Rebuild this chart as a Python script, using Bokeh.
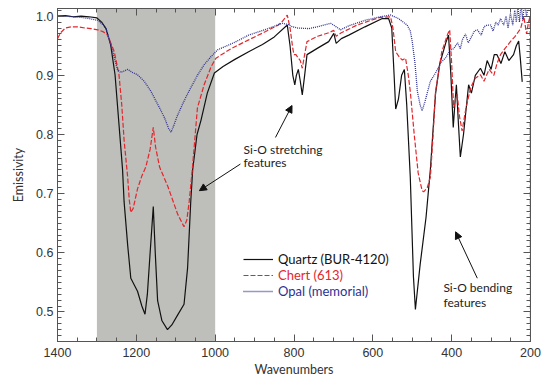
from bokeh.plotting import figure
from bokeh.models import (Range1d, FixedTicker, LinearAxis, BoxAnnotation, Label,
                          Arrow, NormalHead, Legend, LegendItem)
from bokeh.embed import file_html
from bokeh.resources import INLINE

# ---------------- data ----------------
quartz_wn = [1400, 1380, 1360, 1340, 1320, 1300, 1288, 1277, 1265, 1254, 1244, 1235, 1231, 1222,
             1214, 1197, 1186, 1178, 1172, 1165, 1157, 1152, 1146, 1135, 1121, 1110, 1095, 1079,
             1070, 1062, 1057, 1046, 1036, 1020, 1002, 980, 950, 915, 880, 850, 817, 810, 803,
             798, 794, 789, 784, 779, 773, 767, 740, 712, 699, 693, 680, 661, 620, 576, 560,
             552, 546, 542, 535, 527, 520, 514, 505, 497, 492, 480, 465, 454, 445, 441, 430,
             415, 408, 402, 396, 392, 388, 383, 378, 370, 357, 350, 340, 327, 318, 310, 300,
             292, 285, 275, 265, 255, 243, 236, 230, 226, 221]
quartz_e = [1.000, 1.001, 0.999, 1.000, 0.999, 0.997, 0.990, 0.979, 0.951, 0.901, 0.817, 0.741,
            0.686, 0.613, 0.557, 0.535, 0.510, 0.496, 0.530, 0.600, 0.678, 0.600, 0.519, 0.485,
            0.470, 0.478, 0.495, 0.513, 0.574, 0.686, 0.741, 0.800, 0.824, 0.870, 0.904, 0.915,
            0.927, 0.940, 0.952, 0.965, 0.985, 0.950, 0.900, 0.884, 0.900, 0.910, 0.890, 0.867,
            0.900, 0.935, 0.946, 0.957, 0.971, 0.954, 0.962, 0.968, 0.982, 0.996, 0.996, 0.980,
            0.900, 0.843, 0.860, 0.900, 0.910, 0.850, 0.728, 0.560, 0.504, 0.580, 0.660, 0.741,
            0.830, 0.868, 0.920, 0.955, 0.968, 0.900, 0.812, 0.850, 0.884, 0.820, 0.762, 0.800,
            0.884, 0.870, 0.900, 0.912, 0.900, 0.925, 0.910, 0.935, 0.935, 0.920, 0.940, 0.925,
            0.935, 0.950, 0.958, 0.930, 0.889]

chert_wn = [1400, 1392, 1380, 1365, 1349, 1330, 1315, 1298, 1285, 1273, 1256, 1244, 1237, 1231,
            1222, 1218, 1214, 1208, 1197, 1186, 1176, 1165, 1157, 1151, 1141, 1134, 1120, 1112,
            1095, 1079, 1072, 1066, 1058, 1045, 1028, 1010, 998, 960, 915, 872, 840, 830, 817,
            810, 803, 800, 795, 789, 784, 779, 773, 767, 740, 712, 699, 693, 680, 640, 600, 581,
            555, 549, 542, 532, 525, 517, 510, 505, 495, 485, 475, 471, 462, 454, 447, 441, 425,
            410, 405, 400, 395, 390, 386, 380, 373.5, 365, 352, 340, 327, 318, 305, 293, 285,
            276, 265, 251, 240, 225, 217, 210, 205, 201, 200]
chert_e = [0.962, 0.972, 0.980, 0.982, 0.982, 0.980, 0.979, 0.977, 0.974, 0.968, 0.940, 0.901,
           0.850, 0.790, 0.728, 0.690, 0.668, 0.675, 0.708, 0.730, 0.745, 0.775, 0.812, 0.778,
           0.745, 0.734, 0.712, 0.697, 0.665, 0.644, 0.655, 0.686, 0.741, 0.845, 0.884, 0.915,
           0.929, 0.945, 0.960, 0.974, 0.985, 0.991, 1.002, 0.980, 0.945, 0.935, 0.935, 0.929,
           0.925, 0.912, 0.935, 0.957, 0.966, 0.972, 0.976, 0.966, 0.972, 0.985, 0.994, 0.998,
           0.999, 0.980, 0.940, 0.930, 0.926, 0.929, 0.900, 0.873, 0.800, 0.735, 0.705, 0.703,
           0.710, 0.728, 0.800, 0.873, 0.940, 0.970, 0.977, 0.920, 0.845, 0.860, 0.868, 0.830,
           0.806, 0.840, 0.879, 0.895, 0.901, 0.890, 0.910, 0.900, 0.920, 0.935, 0.945, 0.957,
           0.965, 0.979, 1.000, 0.970, 0.990, 1.000, 0.400]

opal_wn = [1400, 1380, 1360, 1340, 1320, 1298, 1285, 1277, 1268, 1260, 1248, 1240, 1232, 1222,
           1210, 1197, 1180, 1163, 1145, 1129, 1118, 1112, 1105, 1097, 1087, 1075, 1062, 1045,
           1028, 1010, 994, 950, 915, 870, 830, 815, 804, 790, 762, 735, 707, 695, 682, 660, 620,
           581, 555, 535, 513, 505, 500, 493, 487, 480, 475, 468, 460, 454, 440, 428, 415, 403,
           395, 385, 378, 373, 365, 358, 350, 342, 335, 325, 318, 310, 301, 295, 288, 282, 276,
           268, 262, 257, 251, 245, 240, 236, 232, 228, 224, 220, 215, 210, 205, 200]
opal_e = [1.001, 1.000, 0.999, 0.998, 0.996, 0.993, 0.986, 0.979, 0.960, 0.940, 0.910, 0.905,
          0.907, 0.910, 0.905, 0.901, 0.890, 0.873, 0.850, 0.829, 0.810, 0.804, 0.815, 0.830,
          0.845, 0.862, 0.879, 0.900, 0.918, 0.932, 0.943, 0.956, 0.968, 0.978, 0.988, 0.986,
          0.982, 0.980, 0.979, 0.983, 0.988, 0.983, 0.977, 0.984, 0.993, 0.999, 1.002, 0.996,
          0.985, 0.975, 0.957, 0.920, 0.873, 0.850, 0.840, 0.855, 0.875, 0.890, 0.905, 0.921,
          0.930, 0.943, 0.945, 0.955, 0.945, 0.960, 0.970, 0.955, 0.965, 0.975, 0.977, 0.968,
          0.982, 0.985, 0.985, 0.975, 0.990, 0.985, 0.996, 0.985, 1.000, 0.980, 1.005, 0.985,
          1.010, 0.990, 1.015, 0.990, 1.020, 0.995, 1.020, 1.000, 1.020, 1.020]

series_names = ["Quartz (BUR-4120)", "Chert (613)", "Opal (memorial)"]
x_major = [1400, 1200, 1000, 800, 600, 400, 200]
y_major = [0.5, 0.6, 0.7, 0.8, 0.9, 1.0]
shade_range = [1300, 1000]

# ---------------- figure ----------------
TICK_FONT = "Liberation Sans"
TXT_FONT = "Lato"
AX_COL = "#555555"

p = figure(width=543, height=379, output_backend="svg", toolbar_location=None,
           x_range=Range1d(1400, 200), y_range=Range1d(0.45, 1.013),
           min_border_left=57, min_border_right=13, min_border_top=8, min_border_bottom=35,
           background_fill_color="white", border_fill_color="white")
p.grid.visible = False
p.outline_line_color = AX_COL
p.outline_line_width = 1

xt = FixedTicker(ticks=x_major, minor_ticks=list(range(200, 1401, 50)))
yt = FixedTicker(ticks=y_major, minor_ticks=[round(0.45 + 0.01 * i, 2) for i in range(57)])

def style_axis(ax):
    ax.major_tick_in = 7
    ax.major_tick_out = 0
    ax.minor_tick_in = 4
    ax.minor_tick_out = 0
    ax.major_tick_line_color = AX_COL
    ax.minor_tick_line_color = AX_COL
    ax.axis_line_color = AX_COL
    ax.major_label_text_font = TICK_FONT
    ax.major_label_text_font_size = "12.5px"
    ax.major_label_text_color = "#333333"
    ax.axis_label_text_font = TXT_FONT
    ax.axis_label_text_font_size = "12.5px"
    ax.axis_label_text_font_style = "normal"
    ax.axis_label_text_color = "#333333"

xa = p.xaxis[0]
xa.ticker = xt
xa.axis_label = "Wavenumbers"
xa.major_label_standoff = 6
xa.axis_label_standoff = 2
style_axis(xa)

ya = p.yaxis[0]
ya.ticker = yt
ya.axis_label = "Emissivity"
ya.major_label_standoff = 4
ya.axis_label_standoff = 7
ya.major_label_overrides = {0.5: "0.5", 0.6: "0.6", 0.7: "0.7", 0.8: "0.8", 0.9: "0.9", 1.0: "1.0"}
style_axis(ya)

# mirrored tick marks on top and right (no labels)
top_ax = LinearAxis(ticker=xt, major_label_overrides={t: "" for t in x_major},
                    major_label_standoff=0)
style_axis(top_ax)
p.add_layout(top_ax, "above")
right_ax = LinearAxis(ticker=yt, major_label_overrides={t: "" for t in y_major},
                      major_label_standoff=0)
style_axis(right_ax)
p.add_layout(right_ax, "right")

# shaded Si-O stretching region
p.add_layout(BoxAnnotation(left=shade_range[0], right=shade_range[1], fill_color="#bebebb",
                           fill_alpha=1.0, line_color=None, level="underlay"))

r_q = p.line(quartz_wn, quartz_e, line_color="#111111", line_width=1.2)
r_c = p.line(chert_wn, chert_e, line_color="#e3262c", line_width=1.2, line_dash="5 2")
r_o = p.line(opal_wn, opal_e, line_color="#2e3192", line_width=1.3, line_dash="1 1")

# legends (one per item so each label gets its own colour)
leg_specs = [(series_names[0], r_q, "#111111", 74),
             (series_names[1], r_c, "#e3262c", 58),
             (series_names[2], r_o, "#2e3192", 42)]
for name, rend, col, yloc in leg_specs:
    leg = Legend(items=[LegendItem(label=name, renderers=[rend])], location=(186, yloc),
                 label_text_color=col, label_text_font=TXT_FONT, label_text_font_size="13px",
                 glyph_width=30, glyph_height=16, label_height=16, label_standoff=5,
                 padding=0, margin=0, spacing=0, border_line_color=None,
                 background_fill_alpha=0.0)
    p.add_layout(leg)

# annotations
for txt, x, y in [("Si-O stretching", 928, 0.775), ("features", 928, 0.753),
                  ("Si-O bending", 421, 0.5405), ("features", 421, 0.5154)]:
    p.add_layout(Label(x=x, y=y, text=txt, text_font=TXT_FONT, text_font_size="12px",
                       text_color="#222222", text_align="left", text_baseline="middle"))

for xs, ys, xe, ye in [(847, 0.795, 805, 0.849), (936, 0.750, 1040, 0.705),
                       (335, 0.557, 390, 0.6355)]:
    p.add_layout(Arrow(end=NormalHead(size=7, fill_color="#111111", line_color="#111111"),
                       x_start=xs, y_start=ys, x_end=xe, y_end=ye,
                       line_color="#111111", line_width=1))

open("out.html", "w").write(file_html(p, INLINE))
